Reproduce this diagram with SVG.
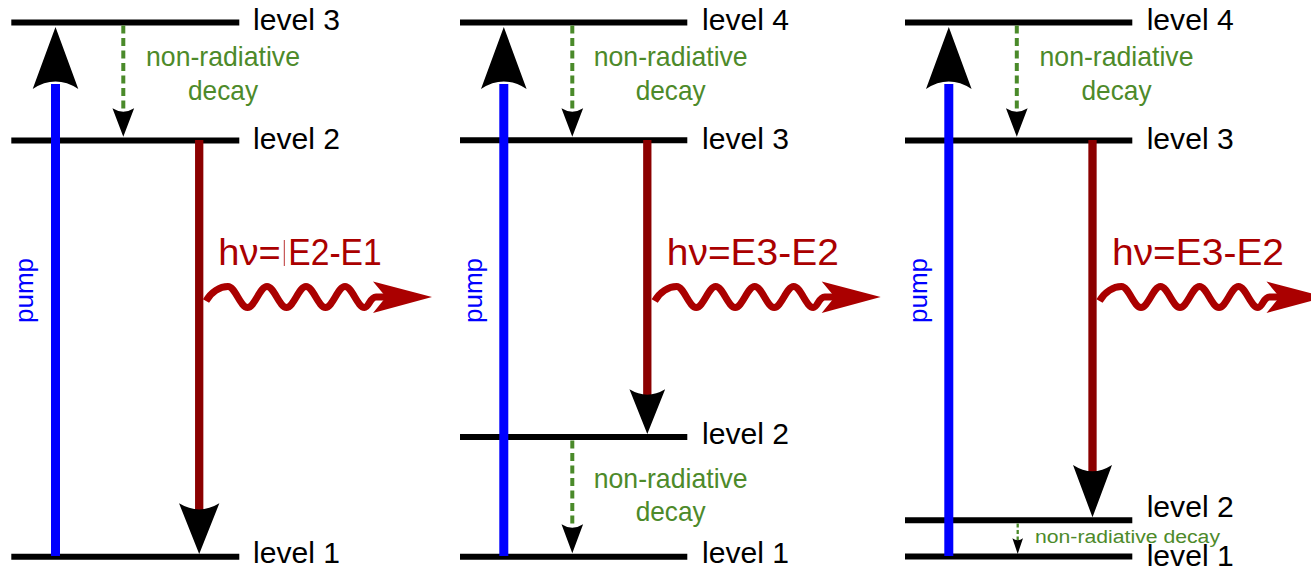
<svg xmlns="http://www.w3.org/2000/svg" xmlns:xlink="http://www.w3.org/1999/xlink" width="1311" height="569" viewBox="0 0 1311 569">
<style>
.lv{stroke:#000;stroke-width:6;}
.lbl{font-family:"Liberation Sans",Arial,sans-serif;font-size:30px;fill:#000;}
.nr{font-family:"Liberation Sans",Arial,sans-serif;font-size:28px;fill:#4d8a2a;text-anchor:middle;}
.nrs{font-family:"Liberation Sans",Arial,sans-serif;font-size:18px;fill:#4d8a2a;}
.pump{stroke:#0000ff;stroke-width:9;}
.ptxt{font-family:"Liberation Sans",Arial,sans-serif;font-size:26px;fill:#0000ff;text-anchor:middle;}
.em{stroke:#8b0000;stroke-width:8.3;}
.dec{stroke:#4a8a2a;stroke-width:4;stroke-dasharray:8 4.5;}
.decs{stroke:#4a8a2a;stroke-width:2.3;stroke-dasharray:4 2.5;}
.hv{font-family:"Liberation Sans",Arial,sans-serif;font-size:37px;fill:#aa0000;}
.wave{fill:none;stroke:#aa0000;stroke-width:7;}
.head{fill:#000;}
</style>
<defs>
<path id="ah" d="M0,0 L0.5,-1 Q0,-0.76 -0.5,-1 Z"/>
<g id="photon">
<path class="wave" d="M206,301 C211,292 220,286.5 228,286.5 C235.1,286.5 240.4,307.5 247.5,307.5 S259.9,286.5 267,286.5 S279.4,307.5 286.5,307.5 S298.9,286.5 306,286.5 S318.4,307.5 325.5,307.5 S337.9,286.5 345,286.5 S357.4,307.5 364.5,307.5 C369,307.5 370,297 376,297 L388,297"/>
<path fill="#aa0000" d="M432,297 L373,281.5 L386,297 L373,313 Z"/>
</g>
</defs>

<!-- Panel 1 -->
<g id="p1-level3"><line class="lv" x1="11.3" y1="22.5" x2="239.3" y2="22.5"/><text class="lbl" x="253" y="29.5" textLength="87" lengthAdjust="spacingAndGlyphs">level 3</text></g>
<g id="p1-level2"><line class="lv" x1="11.3" y1="140.5" x2="239.3" y2="140.5"/><text class="lbl" x="253" y="148.5" textLength="87" lengthAdjust="spacingAndGlyphs">level 2</text></g>
<g id="p1-level1"><line class="lv" x1="11.3" y1="556.7" x2="239.3" y2="556.7"/><text class="lbl" x="253" y="562.5" textLength="87" lengthAdjust="spacingAndGlyphs">level 1</text></g>

<!-- Panel 2 -->
<g id="p2-level4"><line class="lv" x1="460" y1="22.5" x2="687.3" y2="22.5"/><text class="lbl" x="702" y="29.5" textLength="87" lengthAdjust="spacingAndGlyphs">level 4</text></g>
<g id="p2-level3"><line class="lv" x1="460" y1="140.3" x2="687.3" y2="140.3"/><text class="lbl" x="702" y="148.5" textLength="87" lengthAdjust="spacingAndGlyphs">level 3</text></g>
<g id="p2-level2"><line class="lv" x1="460" y1="437.1" x2="687.3" y2="437.1"/><text class="lbl" x="702" y="444" textLength="87" lengthAdjust="spacingAndGlyphs">level 2</text></g>
<g id="p2-level1"><line class="lv" x1="460" y1="556.7" x2="687.3" y2="556.7"/><text class="lbl" x="702" y="562.5" textLength="87" lengthAdjust="spacingAndGlyphs">level 1</text></g>

<!-- Panel 3 -->
<g id="p3-level4"><line class="lv" x1="905" y1="22.5" x2="1132.3" y2="22.5"/><text class="lbl" x="1146.7" y="29.5" textLength="87" lengthAdjust="spacingAndGlyphs">level 4</text></g>
<g id="p3-level3"><line class="lv" x1="905" y1="140.5" x2="1132.3" y2="140.5"/><text class="lbl" x="1146.7" y="148.5" textLength="87" lengthAdjust="spacingAndGlyphs">level 3</text></g>
<g id="p3-level2"><line class="lv" x1="905" y1="520.3" x2="1132.3" y2="520.3"/><text class="lbl" x="1146.7" y="516.7" textLength="87" lengthAdjust="spacingAndGlyphs">level 2</text></g>
<g id="p3-level1"><line class="lv" x1="905" y1="556.5" x2="1132.3" y2="556.5"/><text class="lbl" x="1146.7" y="566" textLength="87" lengthAdjust="spacingAndGlyphs">level 1</text></g>

<g id="connectors">
<!-- Panel 1 -->
<line class="dec" x1="123.3" y1="25.5" x2="123.3" y2="111"/>
<use xlink:href="#ah" class="head" transform="translate(123.3,136.7) scale(21.7,28.4)"/>
<line class="pump" x1="55.5" y1="556" x2="55.5" y2="84"/>
<use xlink:href="#ah" class="head" transform="translate(55.5,27) scale(45.6,-62)"/>
<line class="em" x1="199.2" y1="140" x2="199.2" y2="512"/>
<use xlink:href="#ah" class="head" transform="translate(199.2,554) scale(40.3,50.7)"/>
<use xlink:href="#photon"/>

<!-- Panel 2 -->
<line class="dec" x1="572.3" y1="25.5" x2="572.3" y2="111"/>
<use xlink:href="#ah" class="head" transform="translate(572.3,136.7) scale(21.7,28.4)"/>
<line class="dec" x1="572.3" y1="440.5" x2="572.3" y2="527"/>
<use xlink:href="#ah" class="head" transform="translate(572.3,553.3) scale(21.6,29)"/>
<line class="pump" x1="503.8" y1="556" x2="503.8" y2="84"/>
<use xlink:href="#ah" class="head" transform="translate(503.8,27) scale(45.6,-62)"/>
<line class="em" x1="647.3" y1="140" x2="647.3" y2="398"/>
<use xlink:href="#ah" class="head" transform="translate(647.3,434) scale(35.7,44.7)"/>
<use xlink:href="#photon" transform="translate(448.7,0)"/>

<!-- Panel 3 -->
<line class="dec" x1="1016.8" y1="25.5" x2="1016.8" y2="111"/>
<use xlink:href="#ah" class="head" transform="translate(1016.8,136.7) scale(21.7,28.4)"/>
<line class="decs" x1="1017.7" y1="523.5" x2="1017.7" y2="541"/>
<use xlink:href="#ah" class="head" transform="translate(1017.7,554) scale(10.6,15.7)"/>
<line class="pump" x1="948.8" y1="556" x2="948.8" y2="84"/>
<use xlink:href="#ah" class="head" transform="translate(948.8,27) scale(45.6,-62)"/>
<line class="em" x1="1092.5" y1="140" x2="1092.5" y2="474"/>
<use xlink:href="#ah" class="head" transform="translate(1092.5,517.3) scale(39,52.3)"/>
<use xlink:href="#photon" transform="translate(893.5,0)"/>
</g>

<g id="labels">
<text class="ptxt" transform="translate(33.3,290.5) rotate(-90)">pump</text>
<text class="ptxt" transform="translate(482,290.5) rotate(-90)">pump</text>
<text class="ptxt" transform="translate(926.8,290.5) rotate(-90)">pump</text>

<text class="nr" x="223" y="66" textLength="154" lengthAdjust="spacingAndGlyphs">non-radiative</text>
<text class="nr" x="223" y="100" textLength="70" lengthAdjust="spacingAndGlyphs">decay</text>
<text class="nr" x="670.7" y="66" textLength="154" lengthAdjust="spacingAndGlyphs">non-radiative</text>
<text class="nr" x="670.7" y="100" textLength="70" lengthAdjust="spacingAndGlyphs">decay</text>
<text class="nr" x="670.7" y="488" textLength="154" lengthAdjust="spacingAndGlyphs">non-radiative</text>
<text class="nr" x="670.7" y="521" textLength="70" lengthAdjust="spacingAndGlyphs">decay</text>
<text class="nr" x="1116.5" y="66" textLength="154" lengthAdjust="spacingAndGlyphs">non-radiative</text>
<text class="nr" x="1116.5" y="100" textLength="70" lengthAdjust="spacingAndGlyphs">decay</text>
<text class="nrs" x="1035" y="543.3" textLength="185" lengthAdjust="spacingAndGlyphs">non-radiative decay</text>

<text class="hv" y="265"><tspan x="218.3" textLength="62.4" lengthAdjust="spacingAndGlyphs">hν=</tspan><tspan x="288.3" textLength="93.4" lengthAdjust="spacingAndGlyphs">E2-E1</tspan></text>
<line x1="284.3" y1="240" x2="284.3" y2="266" stroke="#aa0000" stroke-width="1" opacity="0.8"/>
<text class="hv" x="666.8" y="265" textLength="172" lengthAdjust="spacingAndGlyphs">hν=E3-E2</text>
<text class="hv" x="1112" y="265" textLength="172" lengthAdjust="spacingAndGlyphs">hν=E3-E2</text>
</g>
</svg>
